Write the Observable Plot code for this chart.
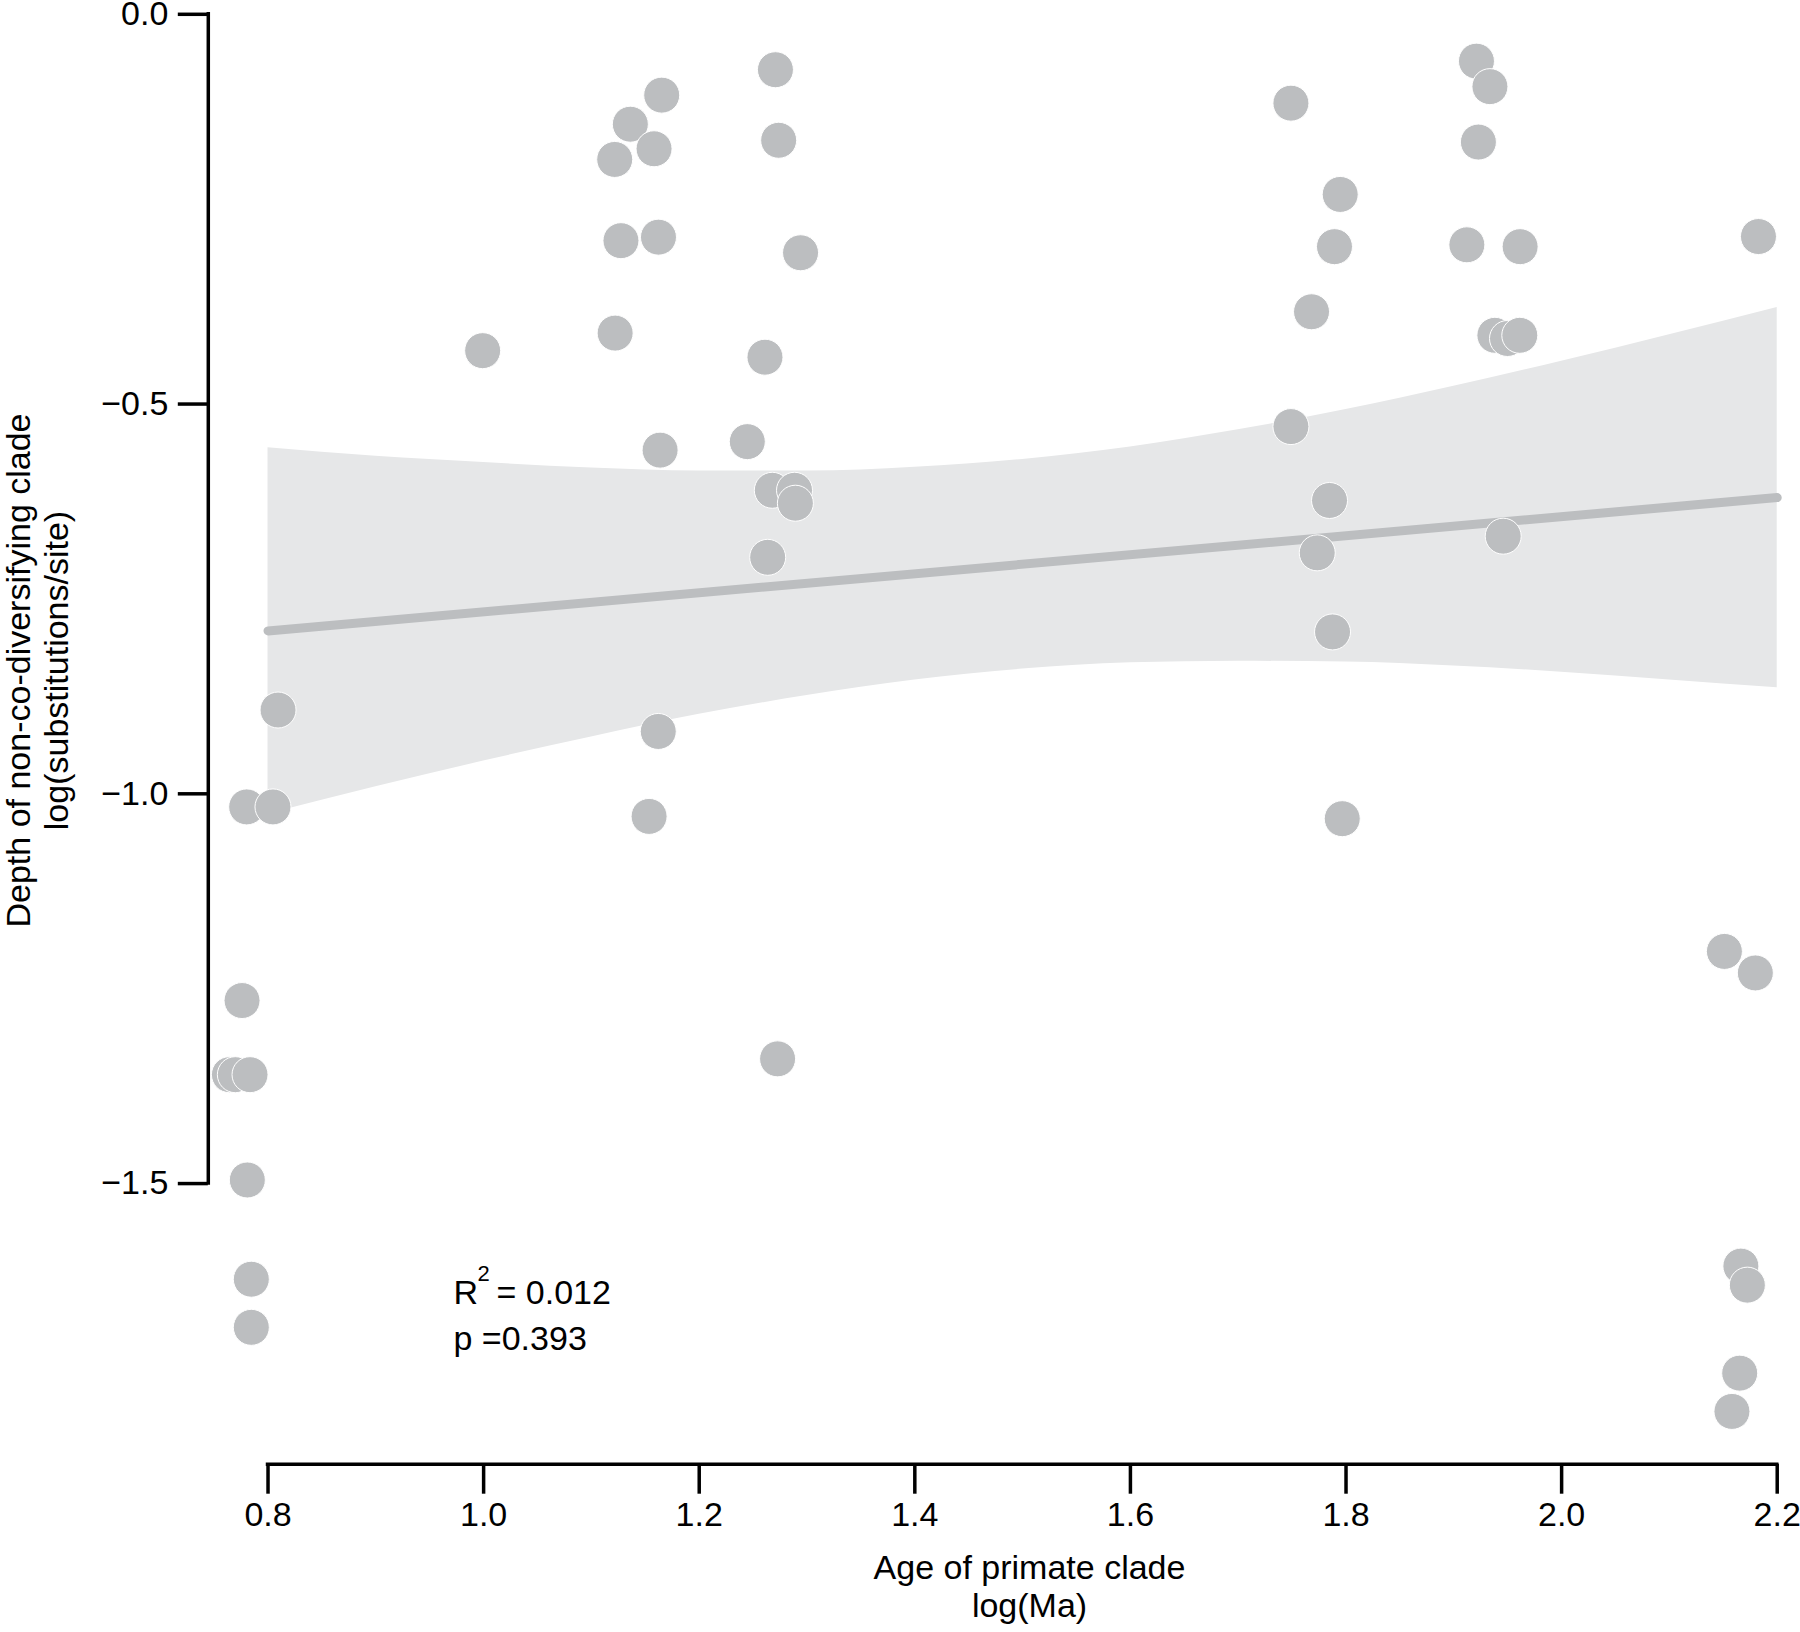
<!DOCTYPE html>
<html>
<head>
<meta charset="utf-8">
<script src="https://cdn.jsdelivr.net/npm/d3@7"></script>
<script src="https://cdn.jsdelivr.net/npm/@observablehq/plot@0.6"></script>
<style>
  html, body { margin: 0; padding: 0; background: #ffffff; }
  #chart { width: 1800px; height: 1632px; }
</style>
</head>
<body>
<div id="chart"></div>
<script>
// ---- Data ----
// Age of primate clade, log(Ma)
const ageX = [
  0.8093, 0.7802, 0.8046, 0.7759, 0.7642, 0.7697, 0.7833, 0.7808, 0.7845, 0.7845,
  0.9991,
  1.1652, 1.1361, 1.1581, 1.1216, 1.1274, 1.1622, 1.1220, 1.1637, 1.1620, 1.1535,
  1.2707, 1.2737, 1.2940, 1.2610, 1.2446, 1.2678, 1.2884, 1.2892, 1.2635, 1.2727,
  1.7489, 1.7946, 1.7893, 1.7680, 1.7489, 1.7847, 1.7733, 1.7875, 1.7965,
  1.9210, 1.9335, 1.9228, 1.9121, 1.9615, 1.9381, 1.9498, 1.9612, 1.9458,
  2.1826, 2.1510, 2.1797, 2.1663, 2.1723, 2.1652, 2.1580
];
// Depth of non-co-diversifying clade, log(substitutions/site)
const depthY = [
  -0.8925, -1.0168, -1.0168, -1.2652, -1.3603, -1.3603, -1.3603, -1.4954, -1.6227, -1.6844,
  -0.4315,
  -0.1037, -0.1410, -0.1725, -0.1862, -0.2904, -0.2859, -0.4090, -0.5591, -0.9200, -1.0290,
  -0.0711, -0.1616, -0.3059, -0.4399, -0.5482, -0.6106, -0.6106, -0.6272, -0.6966, -1.3400,
  -0.1140, -0.2311, -0.2981, -0.3816, -0.5289, -0.6237, -0.6909, -0.7923, -1.0319,
  -0.0601, -0.0928, -0.1639, -0.2957, -0.2981, -0.4118, -0.4159, -0.4118, -0.6695,
  -0.2851, -1.2022, -1.2298, -1.6059, -1.6303, -1.7432, -1.7923
];

// Fitted regression line (end points)
const fitX = [0.8, 2.2];
const fitY = [-0.791, -0.620];

// 95% confidence band
const bandX     = [0.8, 0.9, 1.0, 1.1, 1.2, 1.3, 1.4, 1.5, 1.6, 1.7, 1.8, 1.9, 2.0, 2.1, 2.2];
const bandUpper = [-0.556, -0.567, -0.575, -0.582, -0.586, -0.586, -0.581, -0.571, -0.555, -0.533, -0.507, -0.477, -0.445, -0.411, -0.376];
const bandLower = [-1.026, -0.991, -0.958, -0.927, -0.898, -0.874, -0.854, -0.840, -0.832, -0.830, -0.831, -0.836, -0.844, -0.854, -0.864];

// Axis ticks
const xTicks = [0.8, 1.0, 1.2, 1.4, 1.6, 1.8, 2.0, 2.2];
const yTicks = [0.0, -0.5, -1.0, -1.5];

// Labels
const xTitle = ["Age of primate clade", "log(Ma)"];
const yTitle = ["Depth of non-co-diversifying clade", "log(substitutions/site)"];
const statR2 = "0.012";
const statP = "0.393";

// ---- Build tables ----
const points = ageX.map((x, i) => ({x, y: depthY[i]}));
const fit = fitX.map((x, i) => ({x, y: fitY[i]}));
const band = bandX.map((x, i) => ({x, lo: bandLower[i], hi: bandUpper[i]}));

const xDomain = [0.7446, 2.2216];
const yDomain = [-1.860, 0.0177];

const FONT = "'Liberation Sans', Arial, Helvetica, sans-serif";
const FS = 34;
const ML = 207.8, MB = 168.3;

const chart = Plot.plot({
  width: 1800,
  height: 1632,
  marginLeft: ML,
  marginRight: 0,
  marginTop: 0,
  marginBottom: MB,
  style: {fontFamily: FONT, fontSize: FS + "px", color: "#000", background: "#fff"},
  x: {domain: xDomain},
  y: {domain: yDomain},
  marks: [
    Plot.areaY(band, {x: "x", y1: "lo", y2: "hi", fill: "#e6e7e8", curve: "monotone-x"}),
    Plot.line(fit, {x: "x", y: "y", stroke: "#bcbec0", strokeWidth: 9, strokeLinecap: "round"}),
    Plot.dot(points, {x: "x", y: "y", r: 18, fill: "#bcbec0", stroke: "#ffffff", strokeWidth: 1}),
    // axis lines (R style: only between first and last tick)
    Plot.ruleX([xDomain[0]], {y1: yTicks[yTicks.length - 1], y2: yTicks[0], stroke: "#000", strokeWidth: 3.5, strokeLinecap: "square"}),
    Plot.ruleY([yDomain[0]], {x1: xTicks[0], x2: xTicks[xTicks.length - 1], stroke: "#000", strokeWidth: 3.5, strokeLinecap: "square"}),
    Plot.axisY({ticks: yTicks, tickSize: 30, tickPadding: 10, tickFormat: d3.format(".1f"), fontSize: FS, strokeWidth: 3.5, label: null, fill: "#000", stroke: "#000"}),
    Plot.axisX({ticks: xTicks, tickSize: 30, tickPadding: 8, tickFormat: d3.format(".1f"), fontSize: FS, strokeWidth: 3.5, label: null, fill: "#000", stroke: "#000"}),
    // x title
    Plot.text([xTitle[0]], {frameAnchor: "bottom", dx: 1029 - (ML + 1800) / 2, dy: 1578 - 1463.7, lineAnchor: "bottom", textAnchor: "middle", fontSize: FS, fill: "#000"}),
    Plot.text([xTitle[1]], {frameAnchor: "bottom", dx: 1029 - (ML + 1800) / 2, dy: 1616 - 1463.7, lineAnchor: "bottom", textAnchor: "middle", fontSize: FS, fill: "#000"}),
    // y title
    Plot.text([yTitle[0]], {frameAnchor: "left", dx: 29 - ML, dy: 670 - 1463.7 / 2, rotate: -90, lineAnchor: "bottom", textAnchor: "middle", fontSize: FS, fill: "#000"}),
    Plot.text([yTitle[1]], {frameAnchor: "left", dx: 67 - ML, dy: 670 - 1463.7 / 2, rotate: -90, lineAnchor: "bottom", textAnchor: "middle", fontSize: FS, fill: "#000"}),
    // statistics annotation
    Plot.text(["R"], {frameAnchor: "top-left", dx: 453 - ML, dy: 1303, lineAnchor: "bottom", textAnchor: "start", fontSize: FS, fill: "#000"}),
    Plot.text(["2"], {frameAnchor: "top-left", dx: 477 - ML, dy: 1280, lineAnchor: "bottom", textAnchor: "start", fontSize: 22, fill: "#000"}),
    Plot.text(["= " + statR2], {frameAnchor: "top-left", dx: 496 - ML, dy: 1303, lineAnchor: "bottom", textAnchor: "start", fontSize: FS, fill: "#000"}),
    Plot.text(["p =" + statP], {frameAnchor: "top-left", dx: 453 - ML, dy: 1349, lineAnchor: "bottom", textAnchor: "start", fontSize: FS, fill: "#000"})
  ]
});

document.getElementById("chart").appendChild(chart);
</script>
</body>
</html>
